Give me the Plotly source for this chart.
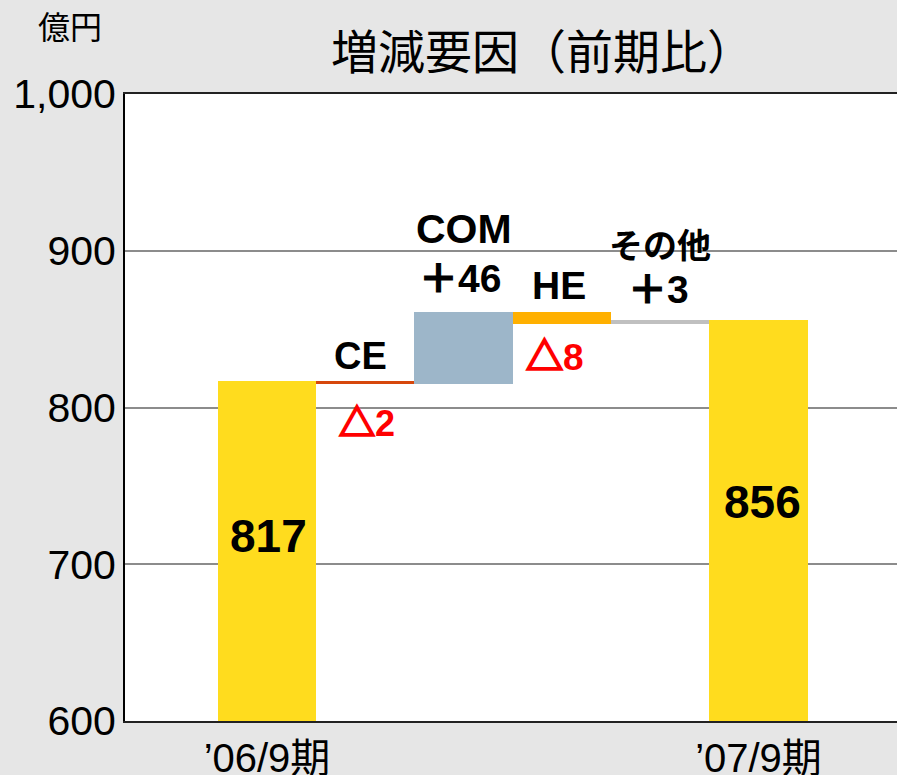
import plotly.graph_objects as go

# ---- data ----
categories = ["'06/9期", "CE", "COM", "HE", "その他", "'07/9期"]
tick_labels = ["’06/9期", "’07/9期"]
start_value = 817
changes = [-2, 46, -8, 3]          # CE, COM, HE, その他
end_value = 856
change_texts = ["△2", "＋46", "△8", "＋3"]
change_names = ["CE", "COM", "HE", "その他"]
colors = ["#FFDC1E", "#D6470C", "#9DB6C9", "#FFB000", "#C0C0C0", "#FFDC1E"]

# ---- waterfall geometry from data ----
bases, heights = [600], [start_value - 600]
level = start_value
for c in changes:
    if c >= 0:
        bases.append(level); heights.append(c)
    else:
        bases.append(level + c); heights.append(-c)
    level += c
bases.append(600); heights.append(end_value - 600)

xs = list(range(len(categories)))

FONT = "Liberation Sans, Arial, Noto Sans CJK JP"


def fmt_change(t, color):
    if t.startswith("△"):
        return ('<b><span style="stroke:%s;stroke-width:2.2px">△</span>%s</b>'
                % (color, t[1:]))
    return '<b><span style="stroke:%s;stroke-width:1.2px">%s</span>%s</b>' % (color, t[0], t[1:])


fig = go.Figure()
fig.add_trace(go.Bar(
    x=xs, y=heights, base=bases, width=1.0,
    marker=dict(color=colors, line=dict(width=0)),
    hoverinfo="skip", showlegend=False,
))

annotations = []
annotations.append(dict(x=0.02, y=718, text="<b>%d</b>" % start_value, showarrow=False,
                        font=dict(size=46, color="black", family=FONT)))
annotations.append(dict(x=5.04, y=740, text="<b>%d</b>" % end_value, showarrow=False,
                        font=dict(size=46, color="black", family=FONT)))

lvl = start_value
for i, (c, name, t) in enumerate(zip(changes, change_names, change_texts)):
    xi = i + 1
    top = max(lvl, lvl + c)
    bot = min(lvl, lvl + c)
    if name == "CE":
        annotations.append(dict(x=xi - 0.05, y=top + 16, text="<b>CE</b>", showarrow=False,
                                font=dict(size=38, color="black", family=FONT)))
        annotations.append(dict(x=xi + 0.02, y=bot - 25, text=fmt_change(t, "#FF0000"), showarrow=False,
                                font=dict(size=36, color="#FF0000", family=FONT)))
    elif name == "COM":
        annotations.append(dict(x=xi + 0.0, y=top + 53, text="<b>COM</b>", showarrow=False,
                                font=dict(size=41, color="black", family=FONT)))
        annotations.append(dict(x=xi - 0.04, y=top + 21, text=fmt_change(t, "black"), showarrow=False,
                                font=dict(size=39, color="black", family=FONT)))
    elif name == "HE":
        annotations.append(dict(x=xi - 0.03, y=top + 17, text="<b>HE</b>", showarrow=False,
                                font=dict(size=39, color="black", family=FONT)))
        annotations.append(dict(x=xi - 0.07, y=bot - 21, text=fmt_change(t, "#FF0000"), showarrow=False,
                                font=dict(size=37, color="#FF0000", family=FONT)))
    else:
        annotations.append(dict(x=xi - 0.0, y=top + 47, text="<b>%s</b>" % name, showarrow=False,
                                font=dict(size=34, color="black", family=FONT)))
        annotations.append(dict(x=xi - 0.02, y=top + 19, text=fmt_change(t, "black"), showarrow=False,
                                font=dict(size=39, color="black", family=FONT)))
    lvl += c

W, H = 897, 775
ml, mr, mt, mb = 125, 0, 94, 54
pw, ph = W - ml - mr, H - mt - mb

for text, px, py, size in [("増減要因（前期比）", 542, 53, 47), ("億円", 70, 28, 32)]:
    annotations.append(dict(x=(px - ml) / pw, y=(H - mb - py) / ph, xref="paper", yref="paper",
                            text=text, showarrow=False, xanchor="center", yanchor="middle",
                            font=dict(size=size, color="black", family=FONT)))

px_per_unit = 98.3
x0 = (125 - 267) / px_per_unit
x1 = (897 - 267) / px_per_unit

fig.update_layout(
    width=W, height=H,
    margin=dict(l=ml, r=mr, t=mt, b=mb, pad=0, autoexpand=False),
    paper_bgcolor="#E6E6E6",
    plot_bgcolor="white",
    bargap=0,
    annotations=annotations,
    font=dict(family=FONT, color="black"),
    xaxis=dict(
        range=[x0, x1], tickvals=[0, 5], ticktext=tick_labels,
        tickfont=dict(size=40, family=FONT, color="black"),
        showgrid=False, zeroline=False, automargin=False,
        showline=True, linecolor="#222222", linewidth=2, mirror=True,
        ticks="", ticklabelstandoff=1,
    ),
    yaxis=dict(
        range=[600, 1000], dtick=100, tickformat=",",
        tickfont=dict(size=41, family=FONT, color="black"),
        showgrid=True, gridcolor="#8C8C8C", gridwidth=1.5, automargin=False,
        zeroline=False, showline=True, linecolor="black", linewidth=2,
        ticks="", ticklabelstandoff=-1,
    ),
)

fig.write_html("out.html",
               config={"displayModeBar": False},
               post_script="document.body.style.margin='0';document.body.style.padding='0';"
                           "document.body.style.background='#E6E6E6';")
